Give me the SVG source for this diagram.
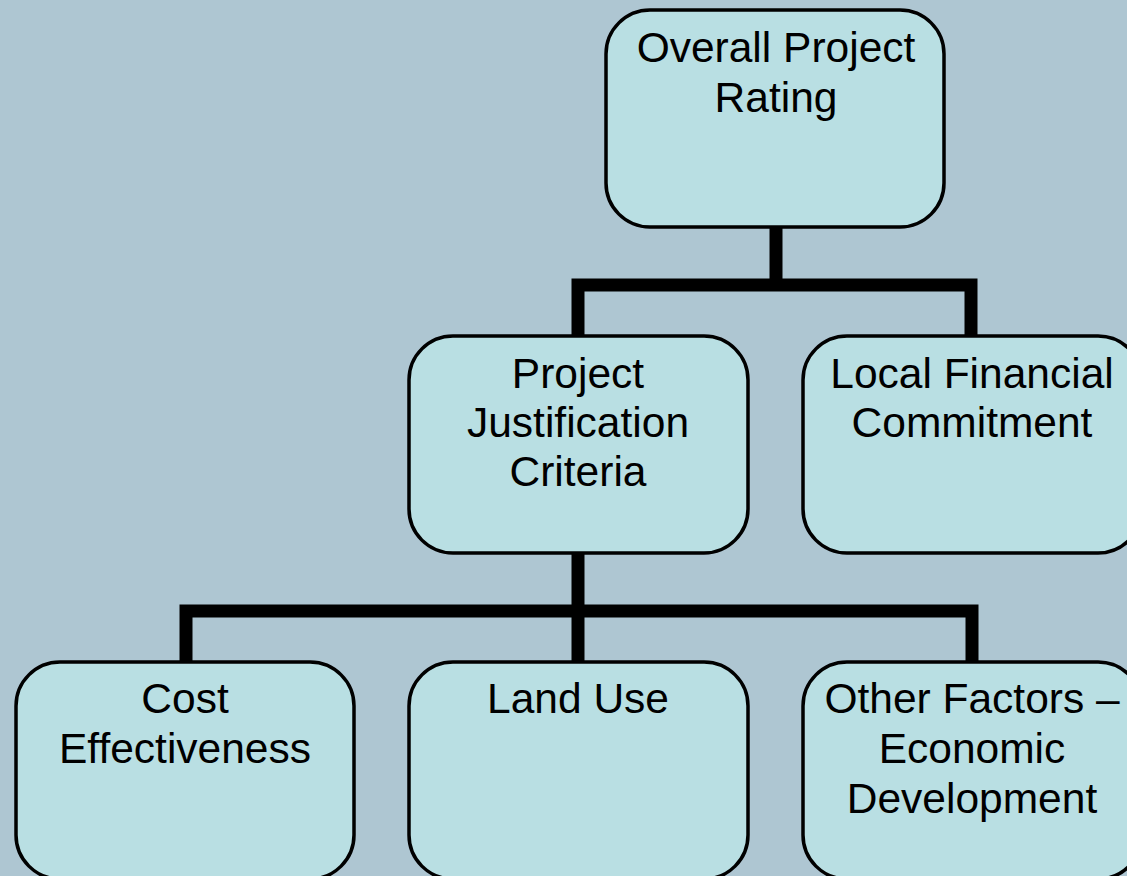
<svg xmlns="http://www.w3.org/2000/svg" width="1127" height="876" viewBox="0 0 1127 876">
  <style>
    .box { fill: #b9dfe3; stroke: #000; stroke-width: 3.5; }
    .wire { fill: none; stroke: #000; stroke-width: 13; stroke-linejoin: miter; }
    .label { font-family: "Liberation Sans", Arial, sans-serif; font-size: 42.5px; fill: #000; text-anchor: middle; }
  </style>
  <rect width="1127" height="876" fill="#aec6d2"/>

  <g id="connectors">
    <path class="wire" d="M776 228 V285"/>
    <path class="wire" d="M578 337 V285 H971 V337"/>
    <path class="wire" d="M578 553 V611"/>
    <path class="wire" d="M186 663 V611 H972 V663"/>
    <path class="wire" d="M578 611 V663"/>
  </g>

  <g id="overall-rating">
    <rect class="box" x="606" y="10" width="338" height="217" rx="44"/>
    <text class="label" x="776" y="62">Overall Project</text>
    <text class="label" x="776" y="112">Rating</text>
  </g>

  <g id="project-justification">
    <rect class="box" x="409" y="336" width="339" height="217" rx="44"/>
    <text class="label" x="578" y="388">Project</text>
    <text class="label" x="578" y="437">Justification</text>
    <text class="label" x="578" y="486">Criteria</text>
  </g>

  <g id="local-financial">
    <rect class="box" x="803" y="336" width="339" height="217" rx="44"/>
    <text class="label" x="972" y="388">Local Financial</text>
    <text class="label" x="972" y="437">Commitment</text>
  </g>

  <g id="cost-effectiveness">
    <rect class="box" x="16" y="662" width="338" height="217" rx="44"/>
    <text class="label" x="185" y="713">Cost</text>
    <text class="label" x="185" y="763">Effectiveness</text>
  </g>

  <g id="land-use">
    <rect class="box" x="409" y="662" width="339" height="217" rx="44"/>
    <text class="label" x="578" y="713">Land Use</text>
  </g>

  <g id="other-factors">
    <rect class="box" x="803" y="662" width="339" height="217" rx="44"/>
    <text class="label" x="972" y="713">Other Factors –</text>
    <text class="label" x="972" y="763">Economic</text>
    <text class="label" x="972" y="813">Development</text>
  </g>
</svg>
